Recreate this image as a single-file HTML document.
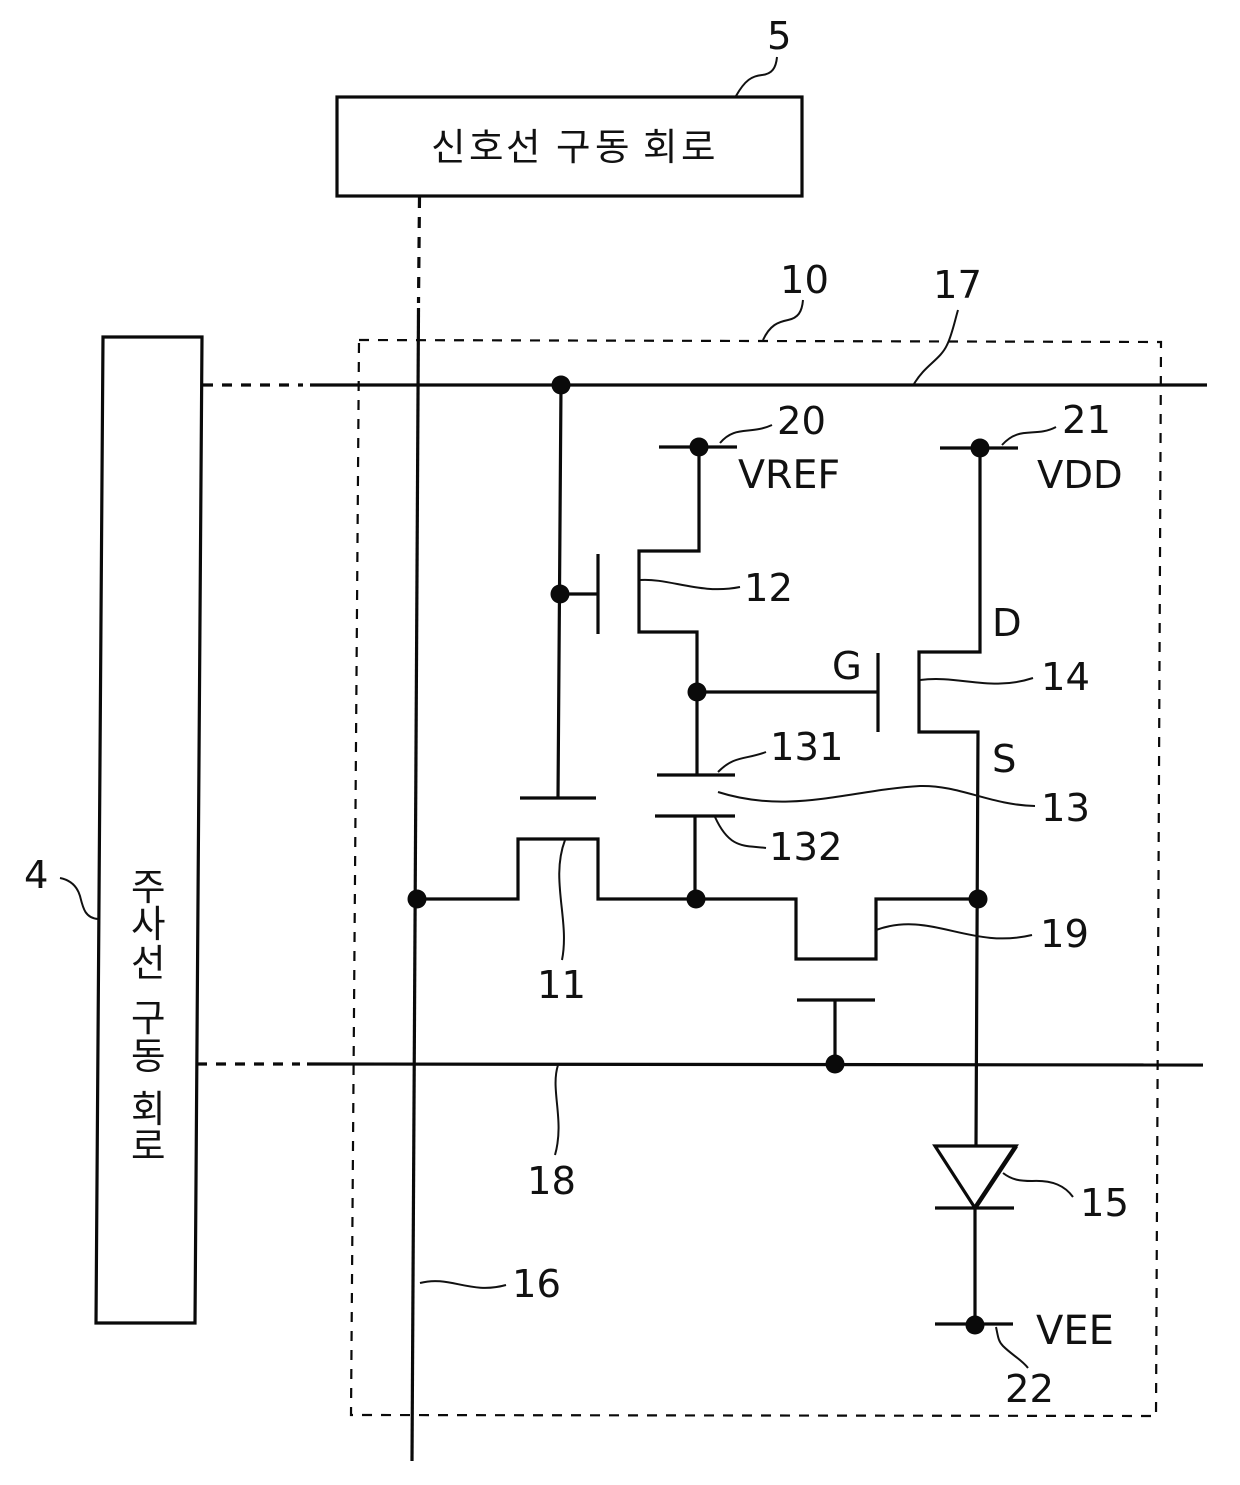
<!DOCTYPE html>
<html><head><meta charset="utf-8"><style>
html,body{margin:0;padding:0;background:#fff}
svg{display:block}
text{font-family:"DejaVu Sans","Liberation Sans",sans-serif;font-size:38.5px;fill:#111}
text.k{font-family:"Noto Sans CJK KR","NanumGothic",sans-serif;font-size:37.5px}
</style></head><body>
<svg width="1240" height="1485" viewBox="0 0 1240 1485" xmlns="http://www.w3.org/2000/svg">
<g fill="none" stroke="#0a0a0a" stroke-width="3.2">
<rect x="337" y="97" width="465" height="99"/>
<path d="M103 337L202 337L195 1323L96 1323Z"/>
<path d="M359 340L1161 342L1156 1416L351 1415Z" stroke-width="2.2" stroke-dasharray="10 9"/>
<path d="M419.5 197L418.5 303" stroke-dasharray="11 9"/>
<path d="M418.5 308L412 1461"/>
<path d="M203 385L303 385" stroke-dasharray="10 9"/>
<path d="M310 385L1207 385"/>
<path d="M197 1064L300 1064" stroke-dasharray="10 9"/>
<path d="M307 1064L1203 1065"/>
<path d="M561 385L558 798M520 798L596 798"/>
<path d="M561 594L598 594M598 554L598 634"/>
<path d="M659 447L737 447M699 447L699 551L639 551L639 632L697 632L697 775"/>
<path d="M697 692L878 692M878 653L878 732"/>
<path d="M940 448L1018 448M980 448L980 652L919 652L919 732L978 732L976 1145"/>
<path d="M657 775L735 775M655 816L735 816M695 816L695 899"/>
<path d="M417 899L518 899L518 839L598 839L598 899L796 899L796 959L876 959L876 899L978 899"/>
<path d="M797 1000L875 1000M835 1000L835 1064"/>
<path d="M935 1146L1016 1146L975 1208Z M935 1208L1014 1208M975 1208L975 1325M935 1324L1013 1324"/>
<path d="M1016 1146L975 1208" stroke-width="4.5"/>
</g>
<g fill="#0a0a0a">
<circle cx="561" cy="385" r="9.5"/><circle cx="699" cy="447" r="9.5"/><circle cx="980" cy="448" r="9.5"/>
<circle cx="560" cy="594" r="9.5"/><circle cx="697" cy="692" r="9.5"/><circle cx="417" cy="899" r="9.5"/>
<circle cx="696" cy="899" r="9.5"/><circle cx="978" cy="899" r="9.5"/><circle cx="835" cy="1064" r="9.5"/><circle cx="975" cy="1325" r="9.5"/>
</g>
<g fill="none" stroke="#111" stroke-width="2">
<path d="M736 96C745 80 752 76 762 75C772 74 776 68 777 57"/>
<path d="M763 340C770 325 778 322 788 320C798 318 802 312 803 300"/>
<path d="M914 384C925 365 940 360 947 345C952 335 955 320 958 310"/>
<path d="M720 443C735 425 750 435 772 425"/>
<path d="M1002 445C1020 425 1035 438 1056 427"/>
<path d="M640 580C670 578 700 595 740 587"/>
<path d="M920 680C960 675 990 692 1033 678"/>
<path d="M718 772C735 755 745 760 766 752"/>
<path d="M718 792C790 815 850 790 920 786C960 785 990 805 1035 806"/>
<path d="M715 817C730 850 745 845 766 848"/>
<path d="M565 840C550 880 570 920 562 960"/>
<path d="M876 930C930 910 970 950 1032 935"/>
<path d="M558 1065C550 1090 565 1120 555 1155"/>
<path d="M1003 1173C1012 1180 1020 1181 1032 1181C1053 1180 1065 1186 1073 1197"/>
<path d="M420 1283C450 1275 470 1295 506 1285"/>
<path d="M996 1327C998 1336 998 1341 1003 1346C1012 1355 1022 1360 1028 1368"/>
<path d="M60 878C70 880 77 886 80 896C83 908 85 918 98 919"/>
</g>
<text class="k" y="160"><tspan x="431">신</tspan><tspan x="469">호</tspan><tspan x="506">선</tspan> <tspan x="556">구</tspan><tspan x="595">동</tspan> <tspan x="643">회</tspan><tspan x="681">로</tspan></text>
<text class="k" x="131" y="900">주</text><text class="k" x="131" y="937">사</text><text class="k" x="131" y="976">선</text>
<text class="k" x="131" y="1031">구</text><text class="k" x="131" y="1069">동</text><text class="k" x="131" y="1122">회</text><text class="k" x="131" y="1159">로</text>
<text x="767" y="49">5</text><text x="24" y="888">4</text>
<text x="780" y="293">10</text><text x="933" y="298">17</text>
<text x="777" y="434">20</text><text x="1062" y="433">21</text>
<text x="738" y="488" font-size="39.5" style="font-size:39.5px">VREF</text><text x="1037" y="488">VDD</text>
<text x="744" y="601">12</text><text x="992" y="636">D</text><text x="832" y="679">G</text>
<text x="1041" y="690">14</text><text x="770" y="760">131</text><text x="992" y="772">S</text>
<text x="1041" y="821">13</text><text x="769" y="860">132</text><text x="1040" y="947">19</text>
<text x="537" y="998">11</text><text x="527" y="1194">18</text><text x="1080" y="1216">15</text>
<text x="512" y="1297">16</text><text x="1036" y="1344" style="font-size:40px">VEE</text><text x="1005" y="1402">22</text>
</svg>
</body></html>
